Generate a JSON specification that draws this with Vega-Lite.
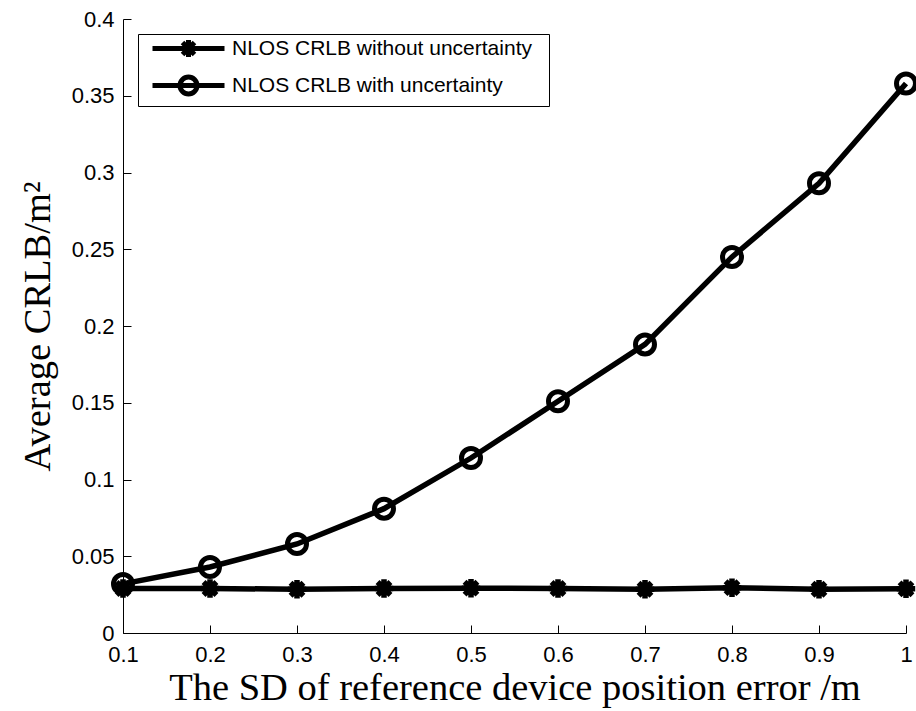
{
  "$schema": "https://vega.github.io/schema/vega-lite/v6.json",
  "width": 783,
  "height": 614,
  "autosize": {"type": "none"},
  "padding": {"left": 123, "top": 19, "right": 10, "bottom": 78},
  "background": "white",
  "config": {
    "view": {"stroke": null},
    "axis": {
      "grid": false,
      "domainColor": "black",
      "domainWidth": 1,
      "tickColor": "black",
      "tickSize": -8,
      "labelFlush": false,
      "labelOverlap": false,
      "labelColor": "black",
      "labelFont": "Liberation Sans",
      "labelFontSize": 22,
      "titleFont": "Liberation Serif",
      "titleFontSize": 38.5,
      "titleFontWeight": "normal",
      "titleColor": "black"
    }
  },
  "data": {
    "values": [
      {"sd": 0.1, "series": "NLOS CRLB without uncertainty", "crlb": 0.029},
      {"sd": 0.2, "series": "NLOS CRLB without uncertainty", "crlb": 0.029},
      {"sd": 0.3, "series": "NLOS CRLB without uncertainty", "crlb": 0.0285},
      {"sd": 0.4, "series": "NLOS CRLB without uncertainty", "crlb": 0.029},
      {"sd": 0.5, "series": "NLOS CRLB without uncertainty", "crlb": 0.0292},
      {"sd": 0.6, "series": "NLOS CRLB without uncertainty", "crlb": 0.029},
      {"sd": 0.7, "series": "NLOS CRLB without uncertainty", "crlb": 0.0285},
      {"sd": 0.8, "series": "NLOS CRLB without uncertainty", "crlb": 0.0295},
      {"sd": 0.9, "series": "NLOS CRLB without uncertainty", "crlb": 0.0285},
      {"sd": 1.0, "series": "NLOS CRLB without uncertainty", "crlb": 0.0288},
      {"sd": 0.1, "series": "NLOS CRLB with uncertainty", "crlb": 0.032},
      {"sd": 0.2, "series": "NLOS CRLB with uncertainty", "crlb": 0.043},
      {"sd": 0.3, "series": "NLOS CRLB with uncertainty", "crlb": 0.058},
      {"sd": 0.4, "series": "NLOS CRLB with uncertainty", "crlb": 0.081},
      {"sd": 0.5, "series": "NLOS CRLB with uncertainty", "crlb": 0.114},
      {"sd": 0.6, "series": "NLOS CRLB with uncertainty", "crlb": 0.151},
      {"sd": 0.7, "series": "NLOS CRLB with uncertainty", "crlb": 0.188},
      {"sd": 0.8, "series": "NLOS CRLB with uncertainty", "crlb": 0.245},
      {"sd": 0.9, "series": "NLOS CRLB with uncertainty", "crlb": 0.293},
      {"sd": 1.0, "series": "NLOS CRLB with uncertainty", "crlb": 0.358}
    ]
  },
  "encoding": {
    "x": {
      "field": "sd",
      "type": "quantitative",
      "scale": {"domain": [0.1, 1], "nice": false, "zero": false},
      "axis": {
        "title": "The SD of reference device position error /m",
        "values": [0.1, 0.2, 0.3, 0.4, 0.5, 0.6, 0.7, 0.8, 0.9, 1],
        "format": "~g",
        "labelPadding": 19,
        "titlePadding": 4
      }
    },
    "y": {
      "field": "crlb",
      "type": "quantitative",
      "scale": {"domain": [0, 0.4], "nice": false},
      "axis": {
        "title": "Average CRLB/m²",
        "values": [0, 0.05, 0.1, 0.15, 0.2, 0.25, 0.3, 0.35, 0.4],
        "format": "~g",
        "labelPadding": 17,
        "titlePadding": 14
      }
    }
  },
  "layer": [
    {
      "mark": {"type": "line", "strokeWidth": 5.5, "color": "black"},
      "encoding": {
        "color": {
          "field": "series",
          "type": "nominal",
          "scale": {
            "domain": ["NLOS CRLB without uncertainty", "NLOS CRLB with uncertainty"],
            "range": ["black", "black"]
          },
          "legend": {
            "title": " ",
            "titleOrient": "right",
            "titlePadding": 15,
            "titleFontSize": 1,
            "orient": "top-left",
            "offset": 15,
            "padding": 2,
            "strokeColor": "black",
            "fillColor": "white",
            "cornerRadius": 0,
            "labelFont": "Liberation Sans",
            "labelFontSize": 21,
            "labelColor": "black",
            "labelLimit": 500,
            "rowPadding": 0,
            "symbolSize": 400,
            "symbolOffset": 36,
            "labelOffset": 31,
            "symbolStrokeWidth": 5,
            "encode": {
              "symbols": {
                "update": {
                  "shape": {"signal": "datum.value == 'NLOS CRLB with uncertainty' ? 'M-3.6,0L3.6,0M0.85,0A0.85,0.85 0 1,1 -0.85,0A0.85,0.85 0 1,1 0.85,0' : 'M-3.6,0L3.6,0M-0.85,0L0.85,0M0,-0.85L0,0.85M-0.6,-0.6L0.6,0.6M-0.6,0.6L0.6,-0.6'"},
                  "size": {"value": 400},
                  "stroke": {"value": "black"},
                  "strokeWidth": {"value": 5},
                  "fill": {"value": "transparent"},
                  "strokeDash": {"value": []}
                }
              }
            }
          }
        }
      }
    },
    {
      "transform": [{"filter": "datum.series == 'NLOS CRLB without uncertainty'"}],
      "mark": {
        "type": "point",
        "filled": false,
        "strokeWidth": 5.5,
        "color": "black",
        "opacity": 1,
        "size": 340,
        "shape": "M-1,0L1,0M0,-1L0,1M-0.7,-0.7L0.7,0.7M-0.7,0.7L0.7,-0.7"
      },
      "encoding": {}
    },
    {
      "transform": [{"filter": "datum.series == 'NLOS CRLB with uncertainty'"}],
      "mark": {
        "type": "point",
        "filled": false,
        "strokeWidth": 5,
        "color": "black",
        "opacity": 1,
        "size": 361,
        "shape": "circle"
      },
      "encoding": {}
    }
  ]
}
